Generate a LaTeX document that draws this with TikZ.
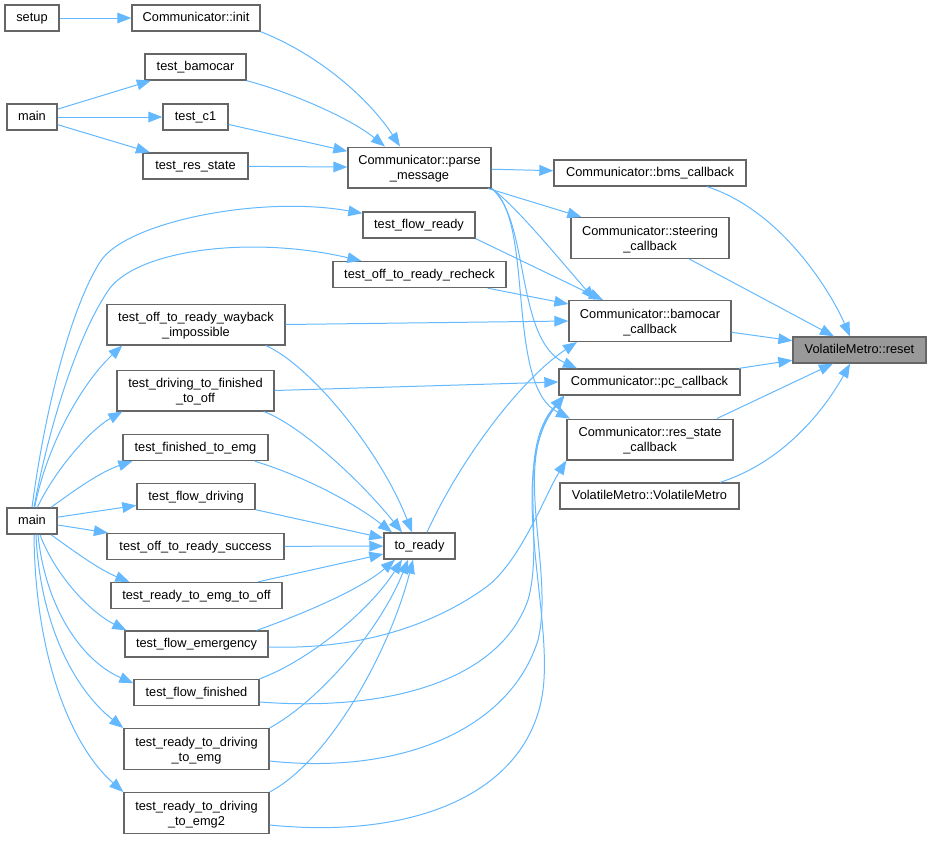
\documentclass[tikz,border=0pt]{standalone}
\usepackage{fontspec}
\setmainfont{Liberation Sans}
\usetikzlibrary{arrows.meta}
\definecolor{edgec}{HTML}{63B8FF}
\definecolor{boxc}{HTML}{666666}
\definecolor{curc}{HTML}{999999}
\newcommand\twol[2]{\begin{tabular}[t]{@{}c@{}}#1\\#2\end{tabular}}
\begin{document}
\begin{tikzpicture}[x=0.75pt,y=-0.75pt,
  box/.style={draw=boxc, fill=white, line width=1pt, inner sep=0pt, font=\fontsize{9.6pt}{11.3pt}\selectfont},
  one/.style={minimum height=19.5pt, text height=7.6pt, text depth=2pt},
  two/.style={minimum height=30.5pt, text height=7.6pt, text depth=12.1pt},
  edge/.style={draw=edgec, line width=0.75pt, -{Triangle[length=10.5pt,width=8pt]}}]
\useasboundingbox (0,0) rectangle (931,843);
% nodes
\node[box,one,minimum width=40.5pt] (setup) at (32,18) {setup};
\node[box,one,minimum width=96pt] (init) at (196,18) {Communicator::init};
\node[box,one,minimum width=75.75pt] (tbam) at (195.5,67) {test\_bamocar};
\node[box,one,minimum width=37.5pt] (main1) at (32,117) {main};
\node[box,one,minimum width=48.75pt] (tc1) at (195.5,117) {test\_c1};
\node[box,one,minimum width=78.75pt] (tres) at (195.5,166) {test\_res\_state};
\node[box,two,minimum width=107.25pt] (parse) at (419.5,167.5) {\twol{Communicator::parse}{\_message}};
\node[box,one,minimum width=84pt] (tfr) at (419,225) {test\_flow\_ready};
\node[box,one,minimum width=129.75pt] (trc) at (419.5,274.5) {test\_off\_to\_ready\_recheck};
\node[box,one,minimum width=144pt] (bms) at (650,173) {Communicator::bms\_callback};
\node[box,two,minimum width=118.5pt] (steer) at (650,238) {\twol{Communicator::steering}{\_callback}};
\node[box,two,minimum width=121.5pt] (bamcb) at (650,321) {\twol{Communicator::bamocar}{\_callback}};
\node[box,one,fill=curc,minimum width=99.75pt] (reset) at (859.5,350) {VolatileMetro::reset};
\node[box,one,minimum width=135.75pt] (pc) at (649.5,382) {Communicator::pc\_callback};
\node[box,two,minimum width=124.5pt] (rescb) at (650,439.5) {\twol{Communicator::res\_state}{\_callback}};
\node[box,one,minimum width=134.25pt] (vm) at (649.5,496) {VolatileMetro::VolatileMetro};
\node[box,two,minimum width=133.5pt] (twb) at (196,324.5) {\twol{test\_off\_to\_ready\_wayback}{\_impossible}};
\node[box,two,minimum width=117.75pt] (tdf) at (195.5,390.5) {\twol{test\_driving\_to\_finished}{\_to\_off}};
\node[box,one,minimum width=108.75pt] (tfe) at (195.5,447.5) {test\_finished\_to\_emg};
\node[box,one,minimum width=88.5pt] (tfd) at (196,496.5) {test\_flow\_driving};
\node[box,one,minimum width=37.5pt] (main2) at (32,521) {main};
\node[box,one,minimum width=132.75pt] (tors) at (195.5,546.5) {test\_off\_to\_ready\_success};
\node[box,one,minimum width=53.25pt] (toready) at (419.5,546) {to\_ready};
\node[box,one,minimum width=128.25pt] (trto) at (196.5,595.5) {test\_ready\_to\_emg\_to\_off};
\node[box,one,minimum width=107.25pt] (tfem) at (196.5,644) {test\_flow\_emergency};
\node[box,one,minimum width=93.75pt] (tffin) at (196.5,692.5) {test\_flow\_finished};
\node[box,two,minimum width=108.75pt] (trde) at (196.5,749) {\twol{test\_ready\_to\_driving}{\_to\_emg}};
\node[box,two,minimum width=108.75pt] (trde2) at (196.5,813) {\twol{test\_ready\_to\_driving}{\_to\_emg2}};
% edges top
\draw[edge] (setup) -- (init);
\draw[edge] (main1) -- (tbam);
\draw[edge] (main1) -- (tc1);
\draw[edge] (main1) -- (tres);
\draw[edge] (init.south east) .. controls (320,55) and (370,100) .. ([xshift=-14.6pt]parse.north);
\draw[edge] (tbam.south east) .. controls (290,92) and (350,118) .. ([xshift=-25.9pt]parse.north);
\draw[edge] (tc1) -- (parse);
\draw[edge] (tres) -- (parse);
\draw[edge] (parse) -- (bms);
\draw[edge] (parse) -- (steer);
\draw[edge] (parse.south east) .. controls (515,205) and (560,260) .. ([xshift=-41.25pt]bamcb.north);
\draw[edge] (parse.south east) .. controls (530,220) and (515,340) .. ([xshift=-54.4pt]pc.north);
\draw[edge] (parse.south east) .. controls (535,220) and (505,385) .. ([xshift=-60pt]rescb.north);
% edges to reset
\draw[edge] ([xshift=42.75pt]bms.south) .. controls (780,210) and (830,290) .. ([xshift=-7.1pt]reset.north);
\draw[edge] (steer) -- (reset);
\draw[edge] (bamcb) -- (reset);
\draw[edge] (pc) -- (reset);
\draw[edge] ([xshift=50.25pt]rescb.north) -- ([xshift=-19.9pt]reset.south);
\draw[edge] ([xshift=52.9pt]vm.north) .. controls (790,460) and (830,400) .. ([xshift=-7.1pt]reset.south);
% edges from lower main
\draw[edge] (main2.north) .. controls (45,410) and (70,310) .. (100,262) .. controls (125,222) and (260,195) .. ([yshift=-1.5pt]tfr.north west);
\draw[edge] ([xshift=1.5pt]main2.north) .. controls (50,420) and (80,330) .. (110,288) .. controls (140,250) and (250,235) .. ([xshift=21.75pt]trc.north west);
\draw[edge] ([xshift=2pt]main2.north) .. controls (48,440) and (85,380) .. ([xshift=12pt]twb.south west);
\draw[edge] ([xshift=4pt]main2.north) .. controls (55,470) and (90,430) .. ([xshift=4.5pt]tdf.south west);
\draw[edge] ([xshift=-5pt]main2.north east) .. controls (75,490) and (100,472) .. ([xshift=7.5pt]tfe.south west);
\draw[edge] (main2) -- (tfd);
\draw[edge] (main2) -- (tors);
\draw[edge] ([xshift=-5pt]main2.south east) .. controls (75,552) and (100,570) .. ([xshift=14.25pt]trto.north west);
\draw[edge] ([xshift=6pt]main2.south) .. controls (55,575) and (90,612) .. ([xshift=1.5pt]tfem.north west);
\draw[edge] ([xshift=4.5pt]main2.south) .. controls (45,605) and (80,660) .. ([yshift=7pt]tffin.west);
\draw[edge] ([xshift=3pt]main2.south) .. controls (40,625) and (75,690) .. (trde.north west);
\draw[edge] ([xshift=1.5pt]main2.south) .. controls (35,655) and (70,745) .. (trde2.north west);
% edges to to_ready
\draw[edge] ([xshift=-15pt]twb.south east) .. controls (310,365) and (380,450) .. ([xshift=-5.6pt]toready.north);
\draw[edge] ([xshift=-8.25pt]tdf.south east) .. controls (300,425) and (360,480) .. ([xshift=-13.1pt]toready.north);
\draw[edge] ([xshift=-10.5pt]tfe.south east) .. controls (300,475) and (350,500) .. ([xshift=-20.6pt]toready.north);
\draw[edge] (tfd) -- (toready);
\draw[edge] (tors) -- (toready);
\draw[edge] (trto) -- (toready);
\draw[edge] ([xshift=-9pt]tfem.north east) .. controls (300,615) and (360,590) .. ([xshift=-18.4pt]toready.south);
\draw[edge] (tffin.north east) .. controls (310,660) and (370,610) .. ([xshift=-13.1pt]toready.south);
\draw[edge] (trde.north east) .. controls (320,700) and (380,630) .. ([xshift=-8.6pt]toready.south);
\draw[edge] (trde2.north east) .. controls (330,760) and (390,650) .. ([xshift=-4.9pt]toready.south);
% edges to callbacks
\draw[edge] ([xshift=5.6pt]toready.north) .. controls (460,460) and (520,380) .. ([xshift=-54.75pt]bamcb.south);
\draw[edge] (tfr.south east) -- ([xshift=-35.25pt]bamcb.north);
\draw[edge] ([xshift=-14.25pt]trc.south east) -- ([yshift=12.75pt]bamcb.west);
\draw[edge] (twb.east) -- (bamcb.west);
\draw[edge] (tdf.east) -- (pc.west);
\draw[edge] ([yshift=-2.25pt]tfem.east) .. controls (370,650) and (440,620) .. (485,588) .. controls (520,563) and (545,495) .. (rescb.south west);
\draw[edge] ([yshift=-7.1pt]tffin.east) .. controls (390,712) and (500,680) .. (528,600) .. controls (545,540) and (515,450) .. ([xshift=4.5pt]pc.south west);
\draw[edge] ([yshift=-9pt]trde.east) .. controls (400,775) and (510,730) .. (538,640) .. controls (555,570) and (510,460) .. ([xshift=4.5pt]pc.south west);
\draw[edge] ([yshift=-9pt]trde2.east) .. controls (420,840) and (530,790) .. (543,690) .. controls (553,610) and (505,470) .. ([xshift=4.5pt]pc.south west);
\end{tikzpicture}
\end{document}
